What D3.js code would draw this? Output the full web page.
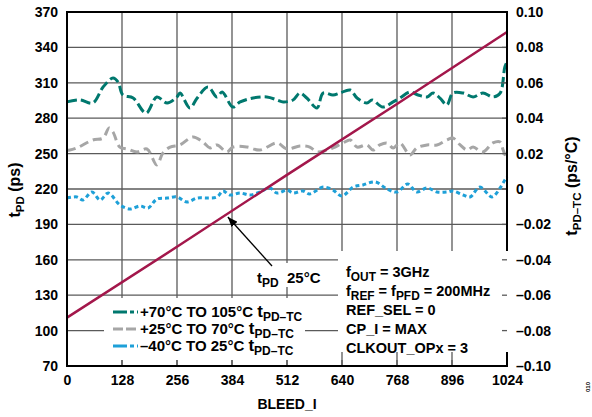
<!DOCTYPE html>
<html>
<head>
<meta charset="utf-8">
<script src="https://cdnjs.cloudflare.com/ajax/libs/d3/7.8.5/d3.min.js"></script>
<style>
body { margin: 0; background: #fff; }
text { font-family: "Liberation Sans", Arial, sans-serif; font-weight: bold; fill: #000; }
</style>
</head>
<body>
<svg width="592" height="417"></svg>
<script>
// tick values
var xTicks = [0, 128, 256, 384, 512, 640, 768, 896, 1024];
var leftTicks = [70, 100, 130, 160, 190, 220, 250, 280, 310, 340, 370];
var rightTicks = [-0.10, -0.08, -0.06, -0.04, -0.02, 0, 0.02, 0.04, 0.06, 0.08, 0.10];

// tPD at 25C (left axis, ps)
var tpdX = [0, 256, 512, 768, 1024];
var tpdY = [111, 171, 232, 292, 353];

// +70C to 105C tPD-TC (right axis, ps/C)
var hiX = [0, 30, 60, 84, 107, 119, 130, 154, 184, 209, 233, 256, 263, 286, 303, 328, 349, 361, 386, 403, 433, 465, 489, 503, 526, 542, 558, 582, 596, 619, 635, 659, 675, 698, 710, 735, 759, 775, 798, 817, 838, 852, 868, 884, 898, 922, 945, 968, 991, 1008, 1019, 1024];
var hiY = [0.0492, 0.0503, 0.0486, 0.0576, 0.0627, 0.0604, 0.0531, 0.0514, 0.0429, 0.0520, 0.0486, 0.0520, 0.0542, 0.0458, 0.0514, 0.0576, 0.0520, 0.0548, 0.0463, 0.0492, 0.0514, 0.0520, 0.0503, 0.0492, 0.0503, 0.0542, 0.0514, 0.0458, 0.0542, 0.0531, 0.0542, 0.0559, 0.0514, 0.0486, 0.0503, 0.0463, 0.0492, 0.0514, 0.0548, 0.0531, 0.0520, 0.0542, 0.0514, 0.0475, 0.0542, 0.0542, 0.0520, 0.0542, 0.0520, 0.0542, 0.0689, 0.0717];

// +25C to 70C tPD-TC
var midX = [0, 7, 23, 60, 84, 98, 107, 123, 140, 163, 186, 209, 223, 240, 263, 293, 316, 333, 349, 372, 386, 419, 449, 489, 512, 542, 565, 582, 605, 619, 642, 659, 675, 698, 712, 728, 745, 759, 775, 798, 814, 838, 861, 884, 898, 915, 931, 945, 968, 991, 1008, 1015, 1024];
var midY = [0.0220, 0.0220, 0.0232, 0.0277, 0.0288, 0.0345, 0.0322, 0.0237, 0.0226, 0.0209, 0.0226, 0.0136, 0.0203, 0.0237, 0.0249, 0.0294, 0.0266, 0.0232, 0.0249, 0.0209, 0.0237, 0.0237, 0.0220, 0.0260, 0.0226, 0.0243, 0.0237, 0.0209, 0.0220, 0.0232, 0.0260, 0.0277, 0.0237, 0.0249, 0.0220, 0.0249, 0.0260, 0.0232, 0.0260, 0.0192, 0.0232, 0.0249, 0.0249, 0.0277, 0.0288, 0.0249, 0.0220, 0.0237, 0.0209, 0.0260, 0.0266, 0.0220, 0.0164];

// -40C to 25C tPD-TC
var lowX = [0, 23, 37, 58, 77, 96, 123, 147, 170, 189, 209, 233, 256, 279, 303, 326, 349, 363, 379, 403, 426, 449, 472, 489, 512, 526, 549, 565, 596, 619, 640, 666, 689, 717, 745, 768, 793, 814, 838, 861, 884, 898, 922, 938, 961, 989, 1008, 1019, 1024];
var lowY = [-0.0051, -0.0045, -0.0062, -0.0017, -0.0062, -0.0023, -0.0090, -0.0113, -0.0096, -0.0107, -0.0057, -0.0051, -0.0045, -0.0073, -0.0051, -0.0051, -0.0045, -0.0011, -0.0034, -0.0023, -0.0034, -0.0017, 0.0006, -0.0023, -0.0006, -0.0023, -0.0011, -0.0028, 0.0011, -0.0006, -0.0040, 0.0011, 0.0023, 0.0040, 0.0000, -0.0017, 0.0028, -0.0017, 0.0006, -0.0017, -0.0017, -0.0011, -0.0034, -0.0045, 0.0011, -0.0045, 0.0006, 0.0051, 0.0068];

var teal = "#00786e", gray = "#a6a6a6", blue = "#1ea0d8", red = "#a3174b";

var svg = d3.select("svg");
var L = 67, R = 507, T = 12, B = 366;

var x = d3.scaleLinear().domain([0, 1024]).range([L, R]);
var yL = d3.scaleLinear().domain([70, 370]).range([B, T]);
var yR = d3.scaleLinear().domain([-0.1, 0.1]).range([B, T]);

// grid
var grid = svg.append("g").attr("stroke", "#5a5a5a").attr("stroke-width", 1.3);
grid.selectAll(".vg").data(xTicks.slice(1, -1)).enter().append("line")
    .attr("x1", d => x(d)).attr("x2", d => x(d)).attr("y1", T).attr("y2", B);
grid.selectAll(".hg").data(leftTicks.slice(1, -1)).enter().append("line")
    .attr("x1", L).attr("x2", R).attr("y1", d => yL(d)).attr("y2", d => yL(d));

function zip(a, b) { return a.map((v, i) => [v, b[i]]); }

var lineR = d3.line().x(d => x(d[0])).y(d => yR(d[1])).curve(d3.curveCatmullRom.alpha(0.5));
var lineL = d3.line().x(d => x(d[0])).y(d => yL(d[1]));

var series = [
    {name: "hi", x: hiX, y: hiY, color: teal, dash: "10,4"},
    {name: "mid", x: midX, y: midY, color: gray, dash: "9,5"},
    {name: "low", x: lowX, y: lowY, color: blue, dash: "4,3"}
];

series.forEach(function(s) {
    svg.append("path").attr("d", lineR(zip(s.x, s.y)))
        .attr("fill", "none").attr("stroke", s.color).attr("stroke-width", 3)
        .attr("stroke-dasharray", s.dash);
});

svg.append("path").attr("d", lineL(zip(tpdX, tpdY)))
    .attr("fill", "none").attr("stroke", red).attr("stroke-width", 2.5);

// white boxes over the grid
svg.append("rect").attr("x", 104).attr("y", 298).attr("width", 201).attr("height", 62).attr("fill", "#fff");
svg.append("rect").attr("x", 252).attr("y", 263).attr("width", 72).attr("height", 24).attr("fill", "#fff");
svg.append("rect").attr("x", 338).attr("y", 251).attr("width", 180).attr("height", 101).attr("fill", "#fff");

// inward tick stubs
svg.selectAll(".bt").data(xTicks).enter().append("line")
    .attr("x1", d => x(d)).attr("x2", d => x(d)).attr("y1", B).attr("y2", B - 6)
    .attr("stroke", "#5a5a5a").attr("stroke-width", 1.3);
svg.selectAll(".rt").data(rightTicks).enter().append("line")
    .attr("x1", R - 5).attr("x2", R).attr("y1", d => yR(d)).attr("y2", d => yR(d))
    .attr("stroke", "#5a5a5a").attr("stroke-width", 1.3);

// frame
var fr = svg.append("g").attr("stroke", "#000").attr("stroke-width", 2).attr("stroke-linecap", "square");
fr.append("line").attr("x1", L).attr("x2", L).attr("y1", T).attr("y2", B);
fr.append("line").attr("x1", L).attr("x2", R).attr("y1", B).attr("y2", B);
fr.append("line").attr("x1", L).attr("x2", R).attr("y1", T).attr("y2", T);
fr.append("line").attr("x1", R).attr("x2", R).attr("y1", T).attr("y2", 250);
fr.append("line").attr("x1", R).attr("x2", R).attr("y1", 353).attr("y2", B);

// axes labels through d3 axes
var fmtR = function(d) { var s = d3.format(".2f")(Math.abs(d)); if (d === 0) return "0"; return (d < 0 ? "\u2013" : "") + s; };

var ax = svg.append("g").attr("transform", "translate(0," + (B + 9) + ")")
    .call(d3.axisBottom(x).tickValues(xTicks).tickFormat(d3.format("d")).tickSize(0).tickPadding(0));
var al = svg.append("g").attr("transform", "translate(" + (L - 9) + ",0)")
    .call(d3.axisLeft(yL).tickValues(leftTicks).tickSize(0).tickPadding(0));
var ar = svg.append("g").attr("transform", "translate(" + (R + 9) + ",0)")
    .call(d3.axisRight(yR).tickValues(rightTicks).tickFormat(fmtR).tickSize(0).tickPadding(0));
[ax, al, ar].forEach(function(g) {
    g.select(".domain").remove();
    g.selectAll("text").attr("font-size", 14).attr("font-family", "'Liberation Sans', Arial, sans-serif")
        .attr("font-weight", "bold").attr("fill", "#000");
});

// sub-scripted text helper
function rich(g, parts, size, subRatio) {
    var r = subRatio || 0.72;
    var t = g.append("text").attr("font-size", size);
    parts.forEach(function(p) {
        if (p[1]) {
            t.append("tspan").text(p[0]).attr("font-size", size * r).attr("dy", size * 0.28);
        } else {
            t.append("tspan").text(p[0]).attr("dy", p[2] ? -size * 0.28 : 0);
        }
    });
    return t;
}

// axis titles
rich(svg, [["t"], ["PD", 1], [" (ps)", 0, 1]], 16)
    .attr("transform", "translate(20,190) rotate(-90)").attr("text-anchor", "middle");
rich(svg, [["t"], ["PD\u2013TC", 1], [" (ps/\u00b0C)", 0, 1]], 16)
    .attr("transform", "translate(577,186) rotate(-90)").attr("text-anchor", "middle");
svg.append("text").attr("x", 287).attr("y", 409).attr("text-anchor", "middle")
    .attr("font-size", 14).text("BLEED_I");

// legend
var legendLabels = ["+70\u00b0C TO 105\u00b0C ", "+25\u00b0C TO 70\u00b0C ", "\u201340\u00b0C TO 25\u00b0C "];
series.forEach(function(s, i) {
    var yy = 317 + i * 17;
    svg.append("line").attr("x1", 113).attr("x2", 138).attr("y1", yy - 5).attr("y2", yy - 5)
        .attr("stroke", s.color).attr("stroke-width", 3)
        .attr("stroke-dasharray", i === 1 ? "10,3" : "14,3,4,3");
    var t = svg.append("text").attr("x", 140).attr("y", yy).attr("font-size", 15);
    t.append("tspan").text(legendLabels[i]);
    t.append("tspan").text("t").attr("font-size", 17);
    t.append("tspan").text("PD\u2013TC").attr("font-size", 12).attr("dy", 4);
});

// conditions text
var cond = [
    [["f"], ["OUT", 1], [" = 3GHz", 0, 1]],
    [["f"], ["REF", 1], [" = f", 0, 1], ["PFD", 1], [" = 200MHz", 0, 1]],
    [["REF_SEL = 0"]],
    [["CP_I = MAX"]],
    [["CLKOUT_OPx = 3"]]
];
cond.forEach(function(c, i) {
    rich(svg, c, 14.5, 0.82).attr("x", 346).attr("y", 277 + i * 19);
});

// tPD 25C annotation
rich(svg, [["t"], ["PD", 1], ["  25\u00b0C", 0, 1]], 15, 0.8).attr("x", 257).attr("y", 283)
    .attr("xml:space", "preserve").style("white-space", "pre");
var tipX = x(372), tipY = yL(198);
svg.append("defs").append("marker").attr("id", "ah").attr("viewBox", "0 0 10 8")
    .attr("refX", 10).attr("refY", 4).attr("markerWidth", 10).attr("markerHeight", 8)
    .attr("markerUnits", "userSpaceOnUse").attr("orient", "auto")
    .append("path").attr("d", "M0,0L10,4L0,8z").attr("fill", "#000");
svg.append("line").attr("x1", 272).attr("y1", 266).attr("x2", tipX + 1).attr("y2", tipY + 2)
    .attr("stroke", "#000").attr("stroke-width", 1.3).attr("marker-end", "url(#ah)");

svg.append("text").attr("transform", "translate(590,392) rotate(-90)")
    .attr("font-size", 6).attr("font-weight", "normal").attr("fill", "#999").text("010");
</script>
</body>
</html>
